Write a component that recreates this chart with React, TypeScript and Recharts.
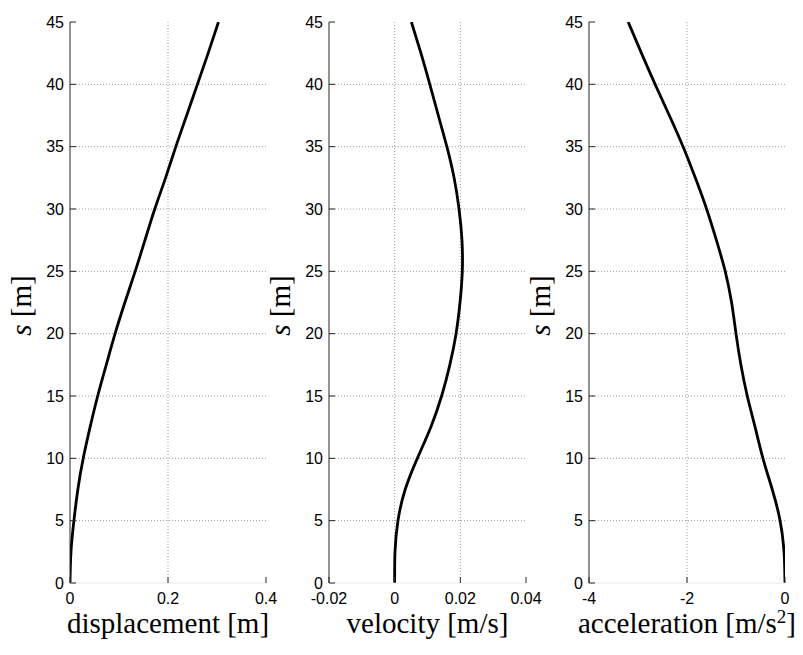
import { LineChart, Line, XAxis, YAxis, CartesianGrid } from "recharts";

// depth along the pile / beam, m
const sValues = [0, 2.5, 5, 7.5, 10, 12.5, 15, 17.5, 20, 22.5, 25, 27.5, 30, 32.5, 35, 37.5, 40, 42.5, 45];

const displacement = [0, 0.002, 0.008, 0.016, 0.027, 0.041, 0.0565, 0.074, 0.092, 0.112, 0.133, 0.153, 0.173, 0.195, 0.216, 0.238, 0.26, 0.282, 0.303];
const velocity = [0, 0.0001, 0.001, 0.0032, 0.0069, 0.011, 0.0143, 0.0168, 0.0187, 0.0199, 0.0206, 0.0205, 0.0196, 0.0181, 0.0159, 0.0133, 0.0107, 0.008, 0.0051];
const acceleration = [0, -0.02, -0.1, -0.26, -0.45, -0.61, -0.77, -0.9, -1.0, -1.09, -1.22, -1.4, -1.6, -1.83, -2.08, -2.36, -2.65, -2.93, -3.2];

const sTicks = [0, 5, 10, 15, 20, 25, 30, 35, 40, 45];
const displacementTicks = [0, 0.2, 0.4];
const velocityTicks = [-0.02, 0, 0.02, 0.04];
const accelerationTicks = [-4, -2, 0];

const data = sValues.map((s, i) => ({
  s,
  displacement: displacement[i],
  velocity: velocity[i],
  acceleration: acceleration[i],
}));

const AXIS = "#262626";
const GRID = "#9a9a9a";
const tickFont = { fontFamily: "Liberation Sans, Arial, sans-serif", fontSize: 16, fill: "#000" };
const serif = "Liberation Serif, Times New Roman, serif";

function YTitle(props: any) {
  const vb = props.viewBox;
  const x = vb.x + 31;
  const y = vb.y + vb.height / 2 + 3;
  return (
    <text x={x} y={y} transform={`rotate(-90 ${x} ${y})`} textAnchor="middle" fontFamily={serif} fontSize={29} fill="#000">
      <tspan fontStyle="italic">s</tspan>
      <tspan> [m]</tspan>
    </text>
  );
}

interface PanelProps {
  left: number;
  plotWidth: number;
  right: number;
  dataKey: string;
  domain: [number, number];
  ticks: number[];
  title: React.ReactNode;
}

function Panel({ left, plotWidth, right, dataKey, domain, ticks, title }: PanelProps) {
  const inner = ticks.slice(1, -1);
  const XTitle = (props: any) => {
    const vb = props.viewBox;
    return (
      <text x={vb.x + vb.width / 2} y={vb.y + 50} textAnchor="middle" fontFamily={serif} fontSize={29} fill="#000">
        {title}
      </text>
    );
  };
  return (
    <div style={{ position: "absolute", left, top: 0 }}>
      <LineChart
        layout="vertical"
        width={70 + plotWidth + right}
        height={655}
        data={data}
        margin={{ top: 22, right, bottom: 0, left: 0 }}
      >
        <CartesianGrid
          stroke={GRID}
          strokeDasharray="1 2"
          horizontalValues={sTicks.slice(1, -1)}
          verticalValues={inner}
        />
        <XAxis
          type="number"
          dataKey={dataKey}
          domain={domain}
          ticks={ticks}
          allowDataOverflow
          height={72}
          tickSize={-6}
          tickMargin={16}
          tick={tickFont}
          axisLine={{ stroke: "#e8e8e8" }}
          tickLine={{ stroke: AXIS }}
          label={{ content: XTitle }}
        />
        <XAxis
          xAxisId="t"
          orientation="top"
          type="number"
          domain={domain}
          ticks={ticks}
          allowDataOverflow
          height={0}
          tickSize={-6}
          tick={false}
          axisLine={{ stroke: AXIS }}
          tickLine={{ stroke: AXIS }}
        />
        <YAxis
          type="number"
          dataKey="s"
          domain={[0, 45]}
          ticks={sTicks}
          reversed
          allowDataOverflow
          width={70}
          tickSize={-6}
          tickMargin={12}
          tick={tickFont}
          axisLine={{ stroke: AXIS }}
          tickLine={{ stroke: AXIS }}
          label={{ content: YTitle }}
        />
        <YAxis
          yAxisId="r"
          orientation="right"
          type="number"
          domain={[0, 45]}
          ticks={sTicks}
          reversed
          allowDataOverflow
          width={0}
          tickSize={-6}
          tick={false}
          axisLine={{ stroke: AXIS }}
          tickLine={{ stroke: AXIS }}
        />
        <Line
          type="natural"
          dataKey={dataKey}
          stroke="#000"
          strokeWidth={2.8}
          dot={false}
          activeDot={false}
          isAnimationActive={false}
        />
      </LineChart>
    </div>
  );
}

export default function App() {
  return (
    <div style={{ position: "absolute", left: 0, top: 0, width: 803, height: 655, overflow: "hidden", background: "#fff" }}>
      <Panel
        left={0}
        plotWidth={196}
        right={20}
        dataKey="displacement"
        domain={[0, 0.4]}
        ticks={displacementTicks}
        title="displacement [m]"
      />
      <Panel
        left={259}
        plotWidth={197}
        right={20}
        dataKey="velocity"
        domain={[-0.02, 0.04]}
        ticks={velocityTicks}
        title="velocity [m/s]"
      />
      <Panel
        left={519}
        plotWidth={196}
        right={16}
        dataKey="acceleration"
        domain={[-4, 0]}
        ticks={accelerationTicks}
        title={
          <>
            <tspan>acceleration [m/s</tspan>
            <tspan dy={-10} fontSize={19}>2</tspan>
            <tspan dy={10}>]</tspan>
          </>
        }
      />
    </div>
  );
}
